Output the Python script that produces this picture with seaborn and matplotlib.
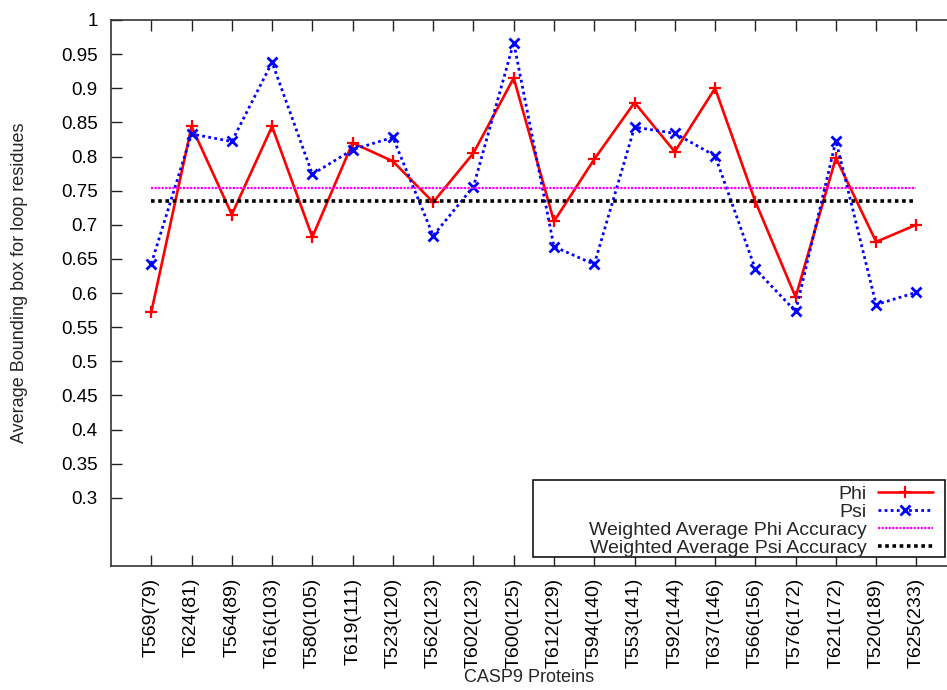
import numpy as np
import pandas as pd
import matplotlib
matplotlib.use("Agg")
import matplotlib.pyplot as plt
from matplotlib.patches import Rectangle
import seaborn as sns

# CASP9 targets (number of residues in brackets)
proteins = ["T569(79)", "T624(81)", "T564(89)", "T616(103)", "T580(105)",
            "T619(111)", "T523(120)", "T562(123)", "T602(123)", "T600(125)",
            "T612(129)", "T594(140)", "T553(141)", "T592(144)", "T637(146)",
            "T566(156)", "T576(172)", "T621(172)", "T520(189)", "T625(233)"]

phi = [0.572, 0.844, 0.715, 0.844, 0.682, 0.820, 0.793, 0.733, 0.805, 0.915,
       0.705, 0.796, 0.879, 0.807, 0.900, 0.734, 0.594, 0.798, 0.675, 0.700]

psi = [0.643, 0.833, 0.822, 0.938, 0.774, 0.810, 0.828, 0.684, 0.756, 0.967,
       0.668, 0.642, 0.843, 0.834, 0.801, 0.635, 0.573, 0.823, 0.583, 0.601]

avg_phi = 0.7534
avg_psi = 0.7344

yticks = [0.3, 0.35, 0.4, 0.45, 0.5, 0.55, 0.6, 0.65, 0.7, 0.75,
          0.8, 0.85, 0.9, 0.95, 1.0]

sns.set_theme(style="white")
plt.rcParams["font.family"] = ["Liberation Sans", "DejaVu Sans"]
plt.rcParams["font.size"] = 13

W, H = 947, 690
fig = plt.figure(figsize=(W / 100, H / 100), dpi=100)
# axes from x=111..957 px, y=20..566 px (right edge runs past the canvas)
ax = fig.add_axes([111 / W, (H - 566) / H, (956.7 - 111) / W, 546 / H])

idx = np.arange(len(proteins))
df = pd.DataFrame({"idx": idx, "phi": phi, "psi": psi,
                   "avg_phi": np.full(len(idx), avg_phi),
                   "avg_psi": np.full(len(idx), avg_psi)})

sns.lineplot(data=df, x="idx", y="phi", ax=ax, color="#ff0000", lw=1.9,
             marker="+", markersize=9, markeredgewidth=1.6,
             markeredgecolor="#ff0000", label="Phi")
sns.lineplot(data=df, x="idx", y="psi", ax=ax, color="#0000ff", lw=2.0,
             marker="x", markersize=7, markeredgewidth=2.0,
             markeredgecolor="#0000ff", label="Psi")
sns.lineplot(data=df, x="idx", y="avg_phi", ax=ax, color="#ff00ff", lw=1.6,
             label="Weighted Average Phi Accuracy")
sns.lineplot(data=df, x="idx", y="avg_psi", ax=ax, color="black", lw=2.6,
             label="Weighted Average Psi Accuracy")

styles = ["-", (0, (1, 1.2)), (0, (1, 0.6)), (0, (1, 1.0))]
for line, ls in zip(ax.lines, styles):
    line.set_linestyle(ls)

ax.set_xlim(-1, 20)
ax.set_ylim(0.2, 1.0)
ax.set_xticks(idx)
ax.set_xticklabels(proteins, rotation=90, fontsize=14)
ax.set_yticks(yticks)
ax.set_yticklabels(["%g" % v for v in yticks], fontsize=13.5)
ax.tick_params(axis="x", direction="in", length=8, width=1, top=True,
               bottom=True, pad=8.5, colors="#222222", labelcolor="black")
ax.tick_params(axis="y", direction="in", length=8, width=1, left=True,
               pad=9.5, colors="#222222", labelcolor="black")
for s in ax.spines.values():
    s.set_color("#333333")
    s.set_linewidth(1.2)

ax.set_xlabel("CASP9 Proteins", fontsize=13)
ax.xaxis.set_label_coords((529 - 111) / 845.7, (566 - 678) / 546)
ax.xaxis.label.set_va("center")
ax.set_ylabel("Average Bounding box for loop residues", fontsize=13)
ax.yaxis.set_label_coords((20 - 111) / 845.7, (566 - 283) / 546)
ax.yaxis.label.set_va("center")

# key box sits over the lower right of the plot area
frame = Rectangle((532.7 / W, (H - 557) / H),
                  (945 - 532.7) / W, (557 - 480) / H,
                  transform=fig.transFigure, fill=True, facecolor="white",
                  edgecolor="black", lw=1.1, zorder=4, clip_on=False)
ax.add_patch(frame)

leg = ax.legend(loc="lower right", bbox_to_anchor=(933 / W, (H - 557) / H),
                bbox_transform=fig.transFigure, frameon=False,
                markerfirst=False, handlelength=2.85, handletextpad=0.55,
                labelspacing=0.02, borderpad=0, borderaxespad=0, fontsize=14)
leg.set_zorder(6)
fig.savefig("out.png", dpi=100)
